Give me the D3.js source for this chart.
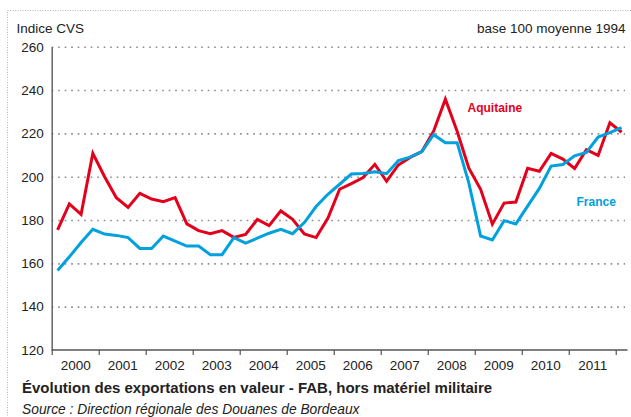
<!DOCTYPE html>
<html>
<head>
<meta charset="utf-8">
<script src="https://cdn.jsdelivr.net/npm/d3@7"></script>
<style>
  body { margin: 0; background: #fff; }
  svg { display: block; font-family: "Liberation Sans", Arial, Helvetica, sans-serif; }
</style>
</head>
<body>
<script>
// Quarterly index, 2000 Q1 to 2012 Q1
var years = [2000, 2001, 2002, 2003, 2004, 2005, 2006, 2007, 2008, 2009, 2010, 2011];
var yTicks = [120, 140, 160, 180, 200, 220, 240, 260];

var aquitaine = [
  175.4, 187.4, 182.6, 210.8,
  200.0, 190.3, 185.8, 192.3,
  189.7, 188.5, 190.3, 178.2,
  175.1, 173.7, 175.1, 172.0,
  173.3, 180.3, 177.4, 184.2,
  180.3, 173.6, 171.9, 180.8,
  194.2, 196.8, 199.6, 205.7,
  197.9, 205.4, 208.9, 211.6,
  221.0, 235.8, 221.0, 203.9,
  194.2, 178.1, 187.8, 188.3,
  203.9, 202.5, 210.7, 208.1,
  203.8, 212.5, 209.8, 224.9,
  220.5
];

var france = [
  156.7, 163.0, 169.6, 175.7,
  173.5, 172.9, 171.9, 166.9,
  166.8, 172.6, 170.3, 168.0,
  168.0, 164.0, 164.0, 171.9,
  169.3, 171.6, 173.9, 175.7,
  173.7, 178.8, 186.2, 191.9,
  196.5, 201.2, 201.5, 202.3,
  201.4, 207.4, 209.0, 211.6,
  219.4, 215.7, 215.7, 197.0,
  172.6, 170.8, 179.7, 178.2,
  186.4, 194.6, 204.9, 205.6,
  209.6, 211.2, 218.3, 220.3,
  222.7
];

var width = 631;
var height = 417;
var red = "#e3001b";
var blue = "#00a1dc";

var svg = d3.select("body")
  .append("svg")
  .attr("width", width)
  .attr("height", height);

// dotted frame round the whole figure
svg.append("rect")
  .attr("x", 7.5)
  .attr("y", 10.5)
  .attr("width", 660)
  .attr("height", 440)
  .attr("fill", "none")
  .attr("stroke", "#b5b5b5")
  .attr("stroke-width", 1)
  .attr("stroke-dasharray", "1,1.5");

var xScale = d3.scaleLinear()
  .domain([2000, 2012.25])
  .range([51.7, 627.5]);

var yScale = d3.scaleLinear()
  .domain([120, 260])
  .range([350, 46.7]);

function qx(i) { return xScale(2000 + (i + 0.5) / 4); }

// dotted grid
var grid = svg.append("g")
  .attr("transform", "translate(" + xScale(2000) + ",0)")
  .call(d3.axisLeft(yScale).tickValues(yTicks.slice(1)).tickSize(-(625 - xScale(2000))).tickFormat(""));
grid.select(".domain").remove();
grid.selectAll("line")
  .attr("stroke", "#8a8a8a")
  .attr("stroke-width", 1.6)
  .attr("stroke-dasharray", "1.6,4.9");

// y axis
var yAxis = svg.append("g")
  .attr("transform", "translate(" + xScale(2000) + ",0)")
  .call(d3.axisLeft(yScale).tickValues(yTicks).tickSize(0).tickPadding(8));
yAxis.select(".domain").attr("stroke", "#666").attr("stroke-width", 1.5);
yAxis.selectAll("text")
  .attr("font-size", "13.5px")
  .attr("fill", "#222")
  .attr("font-family", "Liberation Sans, Arial, sans-serif");

// x axis: year boundaries as ticks, labels centred in each year
var xAxis = svg.append("g")
  .attr("transform", "translate(0," + yScale(120) + ")")
  .call(d3.axisBottom(xScale).tickValues(years.concat([2012])).tickSize(5).tickFormat(""));
xAxis.select(".domain").attr("d", "M" + xScale(2000) + ",0H" + xScale(2012.25))
  .attr("stroke", "#555").attr("stroke-width", 1.5);
xAxis.selectAll("line").attr("stroke", "#555").attr("stroke-width", 1.2);

var xLabels = svg.append("g")
  .attr("transform", "translate(0," + yScale(120) + ")")
  .call(d3.axisBottom(xScale).tickValues(years.map(function(d) { return d + 0.5; }))
    .tickSize(0).tickPadding(10).tickFormat(function(d) { return String(Math.floor(d)); }));
xLabels.select(".domain").remove();
xLabels.selectAll("text")
  .attr("font-size", "13.5px")
  .attr("fill", "#222")
  .attr("font-family", "Liberation Sans, Arial, sans-serif");

// series
var line = d3.line()
  .x(function(d, i) { return qx(i); })
  .y(function(d) { return yScale(d); });

svg.append("path")
  .datum(aquitaine)
  .attr("d", line)
  .attr("fill", "none")
  .attr("stroke", red)
  .attr("stroke-width", 3)
  .attr("stroke-linejoin", "miter");

svg.append("path")
  .datum(france)
  .attr("d", line)
  .attr("fill", "none")
  .attr("stroke", blue)
  .attr("stroke-width", 3)
  .attr("stroke-linejoin", "miter");

// series labels
svg.append("text")
  .attr("x", 467.5)
  .attr("y", 111.5)
  .attr("font-size", "12px")
  .attr("font-weight", "bold")
  .attr("fill", red)
  .text("Aquitaine");

svg.append("text")
  .attr("x", 576.5)
  .attr("y", 205.5)
  .attr("font-size", "12px")
  .attr("font-weight", "bold")
  .attr("fill", blue)
  .text("France");

// header texts
svg.append("text")
  .attr("x", 16.5)
  .attr("y", 33)
  .attr("font-size", "13.5px")
  .attr("fill", "#222")
  .text("Indice CVS");

svg.append("text")
  .attr("x", 625.5)
  .attr("y", 33)
  .attr("font-size", "13.5px")
  .attr("fill", "#222")
  .style("text-anchor", "end")
  .text("base 100 moyenne 1994");

// caption
svg.append("text")
  .attr("x", 22)
  .attr("y", 393)
  .attr("font-size", "15px")
  .attr("font-weight", "bold")
  .attr("fill", "#222")
  .text("Évolution des exportations en valeur - FAB, hors matériel militaire");

svg.append("text")
  .attr("x", 22)
  .attr("y", 413.5)
  .attr("font-size", "13.8px")
  .attr("font-style", "italic")
  .attr("fill", "#222")
  .text("Source : Direction régionale des Douanes de Bordeaux");
</script>
</body>
</html>
